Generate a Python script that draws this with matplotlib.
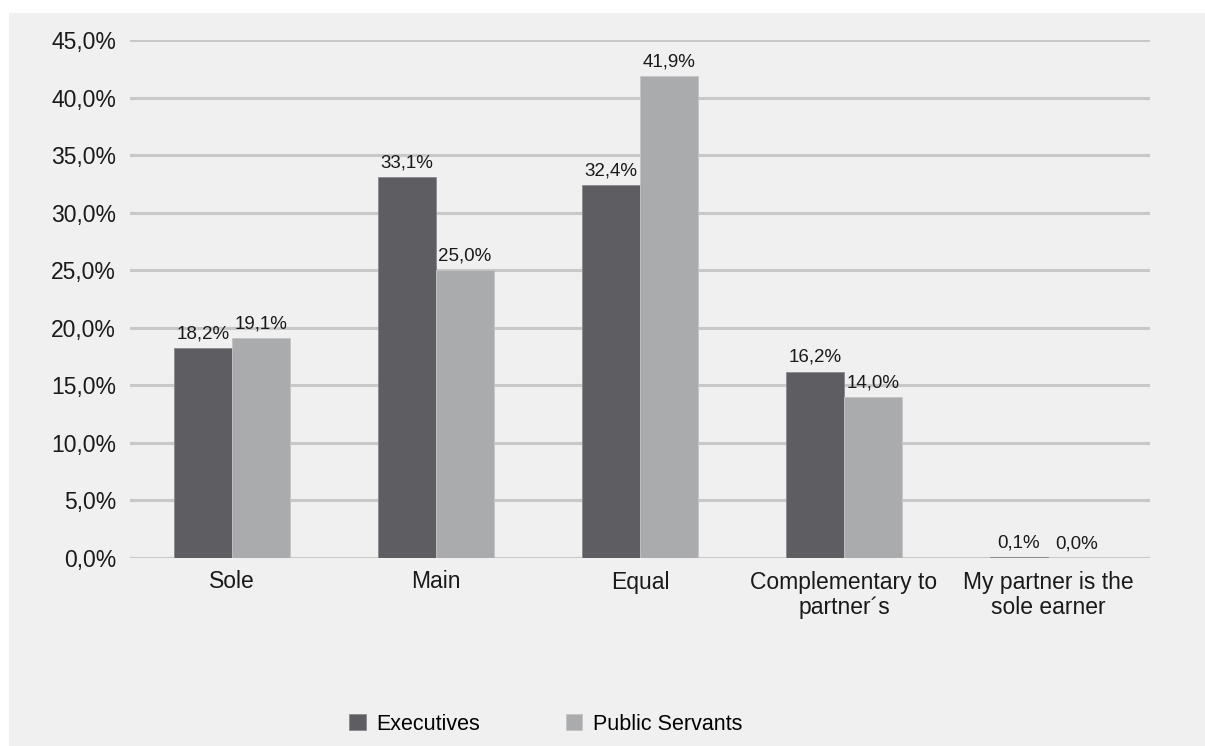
import matplotlib.pyplot as plt
import matplotlib.patches as mpatches
from matplotlib.ticker import MultipleLocator, FuncFormatter
import numpy as np

categories = ["Sole", "Main", "Equal", "Complementary to\npartner\u00b4s", "My partner is the\nsole earner"]
executives = [18.2, 33.1, 32.4, 16.2, 0.1]
public_servants = [19.1, 25.0, 41.9, 14.0, 0.0]

plt.rcParams['font.family'] = ['Liberation Sans', 'DejaVu Sans']

fig = plt.figure(figsize=(12.05, 7.46), dpi=100, facecolor='white')
# grey panel behind the chart, leaving a thin white margin top and left
fig.patches.append(mpatches.Rectangle((9 / 1205, 0), 1, 1 - 13 / 746,
                                      transform=fig.transFigure, facecolor='#f0f0f0',
                                      edgecolor='none', zorder=-10))

ax = fig.add_axes([130 / 1205, 1 - 558 / 746, 1020 / 1205, 518 / 746])
ax.set_facecolor('none')

x = np.arange(len(categories))
w = 0.285
b1 = ax.bar(x - w / 2, executives, w, color='#5e5d62', edgecolor='#8a8a8c', linewidth=0.6,
            label='Executives', zorder=3)
b2 = ax.bar(x + w / 2, public_servants, w, color='#aaabad', edgecolor='#c4c4c6', linewidth=0.6,
            label='Public Servants', zorder=3)

for bars, vals in ((b1, executives), (b2, public_servants)):
    for bar, v in zip(bars, vals):
        ax.annotate(f"{v:.1f}%".replace('.', ','),
                    (bar.get_x() + bar.get_width() / 2, v),
                    xytext=(0, 4), textcoords='offset points',
                    ha='center', va='bottom', fontsize=13.5, color='#1a1a1a')

ax.set_xlim(-0.5, len(categories) - 0.5)
ax.set_ylim(0, 45)
ax.yaxis.set_major_locator(MultipleLocator(5))
ax.yaxis.set_major_formatter(FuncFormatter(lambda v, p: f"{v:.1f}%".replace('.', ',')))
ax.grid(axis='y', color='#c8c8c8', linewidth=2.2, zorder=1)
ax.set_axisbelow(True)
for s in ax.spines.values():
    s.set_visible(False)
ax.tick_params(axis='both', length=0, labelsize=16.5, colors='#1a1a1a')
ax.tick_params(axis='y', pad=10)
ax.tick_params(axis='x', pad=9)
ax.set_xticks(x)
ax.set_xticklabels(categories, linespacing=1.15)

fig.legend(handles=[b1, b2], loc='center', bbox_to_anchor=(546 / 1205, 1 - 724 / 746),
           ncol=2, frameon=False, fontsize=15.5, handlelength=0.75, handleheight=0.75,
           columnspacing=4.0, handletextpad=0.5)

fig.savefig('out.png', dpi=100, facecolor=fig.get_facecolor())
